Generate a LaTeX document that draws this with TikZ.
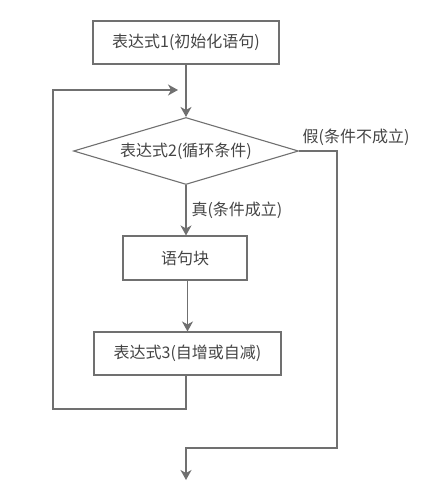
\documentclass[tikz,border=0pt]{standalone}
\usepackage{fontspec}
\setmainfont{Noto Sans CJK SC}
\usetikzlibrary{shapes.geometric,arrows.meta}
\definecolor{linegray}{HTML}{707070}
\definecolor{textgray}{HTML}{444444}
\begin{document}
\begin{tikzpicture}[x=1pt,y=-1pt]
	\useasboundingbox (0,0) rectangle (447,503);
	\tikzstyle{boite}=[draw=linegray,line width=1.1pt,text=textgray,font=\fontsize{16}{19}\selectfont,minimum height=43pt,inner sep=0pt]
	\tikzstyle{test}=[boite,diamond,aspect=3.36,minimum width=225pt,minimum height=67pt]
	\tikzstyle{lab}=[text=textgray,font=\fontsize{16}{19}\selectfont,inner sep=0pt]

	\node[boite,minimum width=186pt] (init) at (186,42.5) {表达式1(初始化语句)};
	\node[test] (cond) at (186,151) {表达式2(循环条件)};
	\node[boite,minimum width=124pt,minimum height=44pt] (body) at (185,258) {语句块};
	\node[boite,minimum width=187pt] (incr) at (187.5,353.5) {表达式3(自增或自减)};

	\node[lab] (faux) at (356,137) {假(条件不成立)};

	\coordinate (L1) at (186,409);
	\coordinate (L2) at (53,409);
	\coordinate (L3) at (53,90);
	\coordinate (L4) at (178,90);
	\coordinate (R1) at (337,151);
	\coordinate (R2) at (337,448);
	\coordinate (R3) at (186,448);
	\coordinate (fin) at (186,480);

	\tikzstyle{fleche}=[draw=linegray,line width=1.1pt,-{Stealth[length=10pt,width=11pt,inset=3pt]}]
	\draw[fleche] (init) -- (cond);
	\draw[fleche] (cond) -- node[lab,right=5pt] {真(条件成立)} (body.north -| cond.south);
	\draw[fleche] (body.south -| incr.north) -- (incr);
	\draw[fleche] (incr.south -| L1) -- (L1) -- (L2) -- (L3) -- (L4);
	\draw[fleche] (cond.east) -- (R1) -- (R2) -- (R3) -- (fin);
\end{tikzpicture}
\end{document}
